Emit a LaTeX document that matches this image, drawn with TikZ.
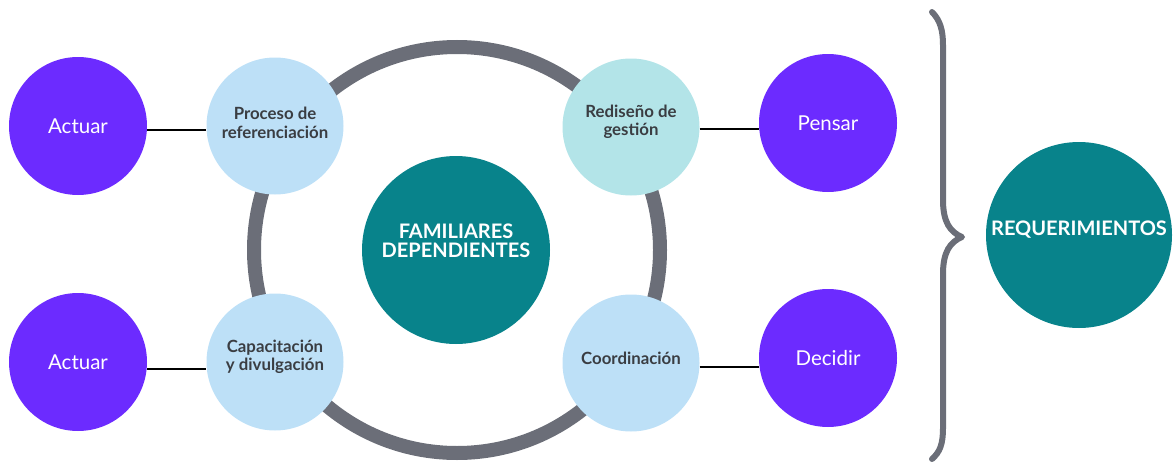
\documentclass[tikz,border=0pt]{standalone}
\usepackage{fontspec}
\setmainfont{Lato}
\definecolor{purp}{HTML}{6C2BFF}
\definecolor{lblue}{HTML}{BDE0F7}
\definecolor{lcyan}{HTML}{B3E4E8}
\definecolor{teal2}{HTML}{08838B}
\definecolor{ringgray}{HTML}{6B6E78}
\definecolor{darktxt}{HTML}{3A3D42}
\begin{document}
\begin{tikzpicture}[x=1pt,y=-1pt,
  purpc/.style={circle,fill=purp,draw=none,minimum size=138pt,inner sep=0pt,text=white,font=\fontsize{20.5}{22}\selectfont},
  bluec/.style={circle,fill=lblue,draw=none,minimum size=137pt,inner sep=0pt},
  tealc/.style={circle,fill=teal2,draw=none,inner sep=0pt},
  darklbl/.style={text=darktxt,font=\fontsize{16.8}{18.5}\selectfont\bfseries,align=center},
  whitelbl/.style={text=white,font=\fontsize{20}{19.5}\selectfont\bfseries,align=center},
  conn/.style={draw=black,line width=1.3pt}
]
\useasboundingbox (0,0) rectangle (1173,463);
% ring
\coordinate (ringc) at (457,250);
\draw[ringgray,line width=14pt] (ringc) circle[radius=203];
% circles
\node[purpc] (act1) at (78,126) {Actuar};
\node[purpc] (act2) at (78,362) {Actuar};
\node[purpc] (pen) at (828,123) {Pensar};
\node[purpc] (dec) at (828,358) {Decidir};
\node[bluec] (proc) at (275,126) {};
\node[bluec] (capa) at (275,362) {};
\node[bluec,fill=lcyan] (redi) at (631,127) {};
\node[bluec] (coor) at (631,363) {};
\node[tealc,minimum size=188pt] (fam) at (456,250) {};
\node[tealc,minimum size=186pt] (req) at (1079,235) {};
% labels
\node[darklbl] (proct) at (275,123) {Proceso de\\referenciación};
\node[darklbl] (capat) at (275,357) {Capacitación\\y divulgación};
\node[darklbl] (redit) at (631,122) {Rediseño de\\gestión};
\node[darklbl] (coort) at (631,358) {Coordinación};
\node[whitelbl] (famt) at (456,241) {FAMILIARES\\DEPENDIENTES};
\node[whitelbl] (reqt) at (1079,230) {REQUERIMIENTOS};
% connectors
\draw[conn] (act1.east |- 0,130) -- (proc.west |- 0,130);
\draw[conn] (act2.east |- 0,369) -- (capa.west |- 0,369);
\draw[conn] (redi.east |- 0,129) -- (pen.west |- 0,129);
\draw[conn] (coor.east |- 0,367) -- (dec.west |- 0,367);
% brace
\draw[ringgray,line width=6pt,line cap=round,line join=round]
  (932,12) .. controls (940,20) and (943,30) .. (943,45)
  -- (943,200) .. controls (943,222) and (950,232) .. (962,237)
  .. controls (950,242) and (943,252) .. (943,274)
  -- (943,428) .. controls (943,444) and (940,452) .. (932,459);
\end{tikzpicture}
\end{document}
